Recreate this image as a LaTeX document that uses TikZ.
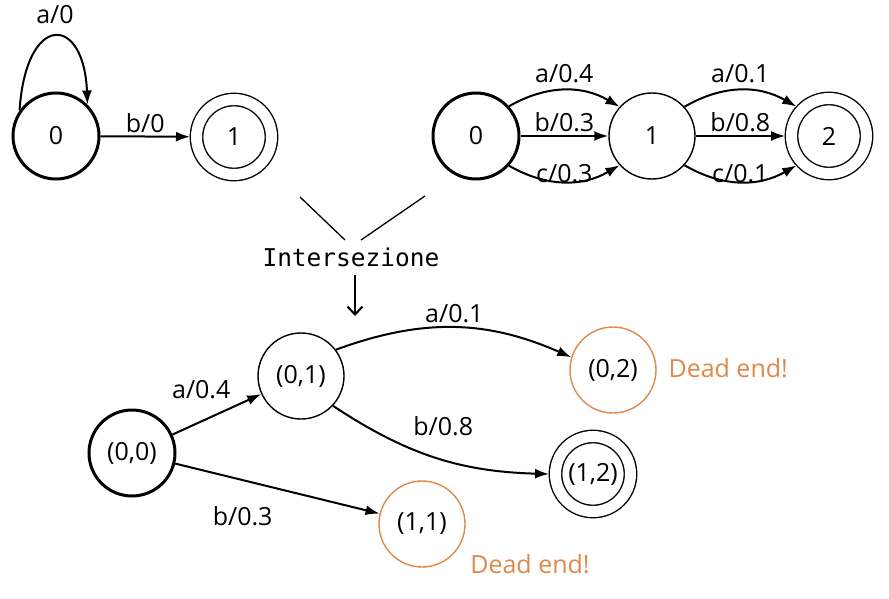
\documentclass[tikz,border=0pt]{standalone}
\usepackage{fontspec}
\setmainfont{Open Sans}
\setmonofont{DejaVu Sans Mono}
\usetikzlibrary{arrows.meta,positioning}
\definecolor{deadorange}{HTML}{E0884A}
\begin{document}
\begin{tikzpicture}[x=1pt,y=-1pt,
  font=\fontsize{25}{29}\selectfont,
  state/.style={circle,draw,line width=1.4pt,minimum size=86pt,inner sep=0pt},
  initstate/.style={state,line width=3pt},
  accstate/.style={state,double,double distance=11pt,minimum size=75pt,line width=1.4pt,outer sep=6.5pt},
  deadstate/.style={state,draw=deadorange},
  edge/.style={-{Latex[length=14pt,width=10pt]},line width=2pt},
  lbl/.style={inner sep=1pt},
  deadlbl/.style={text=deadorange}]
\useasboundingbox (0,0) rectangle (889,599);
% top-left automaton
\node[initstate] (A0) at (56,136) {0};
\node[accstate] (A1) at (234,137) {1};
\draw[edge] (A0.145) .. controls (26,12) and (84,14) .. (A0.45);
\node[lbl] (la) at (55,15) {a/0};
\draw[edge] (A0) -- node[lbl,above=2pt] {b/0} (A1);
% top-right automaton
\node[initstate] (B0) at (476,136) {0};
\node[state] (B1) at (652,136) {1};
\node[accstate] (B2) at (829,136) {2};
\draw[edge] (B0.42) to[bend left=30] node[lbl,above=5pt] {a/0.4} (B1.138);
\draw[edge] (B0) -- node[lbl,above=2pt] {b/0.3} (B1);
\draw[edge] (B0.-42) to[bend right=30] node[lbl,above=-3pt] {c/0.3} (B1.-138);
\draw[edge] (B1.42) to[bend left=30] node[lbl,above=5pt] {a/0.1} (B2.138);
\draw[edge] (B1) -- node[lbl,above=2pt] {b/0.8} (B2);
\draw[edge] (B1.-42) to[bend right=30] node[lbl,above=-3pt] {c/0.1} (B2.-138);
% intersection
\node[font=\ttfamily\fontsize{24.5}{28}\selectfont] (I) at (351,257) {Intersezione};
\coordinate (L1) at (300,197);
\coordinate (L2) at (345,240);
\coordinate (R1) at (425,196);
\coordinate (R2) at (361,240);
\draw[line width=1.3pt] (L1) -- (L2);
\draw[line width=1.3pt] (R1) -- (R2);
\coordinate (D1) at (355,275);
\coordinate (D2) at (355,316);
\draw[line width=2pt,-{Straight Barb[length=8pt,width=15pt]}] (D1) -- (D2);
% product automaton
\node[initstate] (P00) at (132,453) {(0,0)};
\node[state] (P01) at (301,376) {(0,1)};
\node[deadstate] (P02) at (613,370) {(0,2)};
\node[accstate] (P12) at (593,474) {(1,2)};
\node[deadstate] (P11) at (422,524) {(1,1)};
\node[deadlbl,anchor=west] (D02) at (665,368) {Dead end!};
\node[deadlbl] (D11) at (530,564) {Dead end!};
\draw[edge] (P00) -- node[lbl,pos=0.45,above left=16pt and -20pt] {a/0.4} (P01);
\draw[edge] (P00) -- node[lbl,pos=0.33,below=24pt] {b/0.3} (P11);
\draw[edge] (P01.37) to[bend left=22] node[lbl,above=3pt] {a/0.1} (P02.163);
\draw[edge] (P01.-43) to[bend right=16] node[lbl,pos=0.45,above right=16pt and -14pt] {b/0.8} (P12.180);
\end{tikzpicture}
\end{document}
